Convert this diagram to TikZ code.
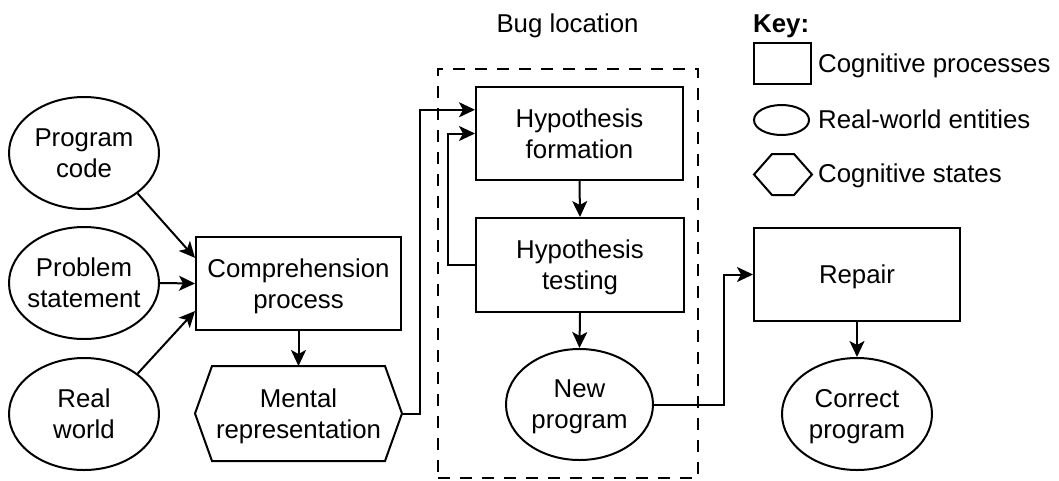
\documentclass[tikz,border=0pt]{standalone}
\usepackage{fontspec}
\setmainfont{Liberation Sans}
\usetikzlibrary{shapes.geometric,arrows.meta,calc}
\newcommand{\dfont}{\fontsize{25.8}{31}\selectfont}
\tikzset{
  lw/.style={line width=2pt},
  base/.style={lw, align=center, inner sep=0pt, font=\dfont, text depth=0pt},
  proc/.style={base, draw, rectangle},
  ent/.style={base, draw, ellipse, inner xsep=-6pt, minimum width=150, minimum height=112},
  statebox/.style={base, rectangle, minimum width=205, minimum height=93},
  arr/.style={lw, -{Stealth[length=16pt,width=15pt,inset=4pt]}},
  bugbox/.style={lw, draw, dash pattern=on 12pt off 10pt, rectangle, inner sep=0pt},
  keytext/.style={font=\dfont, inner sep=0pt, anchor=base west},
}
\begin{document}
\begin{tikzpicture}[x=1pt,y=-1pt]
\useasboundingbox (0,0) rectangle (1059,480);

% left column entities
\node[ent] (pc) at (84,153) {Program\\code};
\node[ent] (ps) at (84,283) {Problem\\statement};
\node[ent] (rw) at (84,414) {Real\\world};

% comprehension
\node[proc, minimum width=205, minimum height=93] (comp) at (298.5,283.5) {Comprehension\\process};
\node[statebox] (ment) at (298.5,413.5) {Mental\\representation};
\draw[lw] (ment.west) -- ([xshift=17pt]ment.north west) -- ([xshift=-17pt]ment.north east)
  -- (ment.east) -- ([xshift=-17pt]ment.south east) -- ([xshift=17pt]ment.south west) -- cycle;

% bug location
\node[bugbox, minimum width=260, minimum height=409] (bug) at (568,273.5) {};
\node[font=\dfont, inner sep=0pt, anchor=base] (buglbl) at (567.5,32) {Bug location};
\node[proc, minimum width=207, minimum height=93] (hf) at (579.5,133.5) {Hypothesis\\formation};
\node[proc, minimum width=208, minimum height=94] (ht) at (580,265) {Hypothesis\\testing};
\node[ent, minimum width=147, minimum height=111] (np) at (579.5,404.5) {New\\program};

% repair
\node[proc, minimum width=206, minimum height=93] (rep) at (857,274.5) {Repair};
\node[ent] (cp) at (857,414) {Correct\\program};

% key
\node[keytext, font=\dfont\bfseries] (keylbl) at (753,32) {Key:};
\node[lw, draw, rectangle, minimum width=57, minimum height=41, inner sep=0pt] (krect) at (782.5,63.5) {};
\node[keytext] (ktproc) at (818,72) {Cognitive processes};
\node[lw, draw, ellipse, minimum width=55, minimum height=30, inner sep=0pt] (kell) at (781.5,120) {};
\node[keytext] (ktent) at (818,128) {Real-world entities};
\draw[lw] (754,174.5) -- (772,154) -- (794,154) -- (812,174.5) -- (794,195) -- (772,195) -- cycle;
\node[keytext] (ktstate) at (818,182) {Cognitive states};

% connectors
\coordinate (cin1) at ($(comp.north west)!0.23!(comp.south west)$);
\coordinate (cin3) at ($(comp.north west)!0.79!(comp.south west)$);
\draw[arr] (pc.-37) -- (cin1);
\draw[arr] (ps.east) -- (comp.west);
\draw[arr] (rw.37) -- (cin3);
\draw[arr] (comp.south) -- (ment.north);

\coordinate (hfin1) at ($(hf.north west)!0.25!(hf.south west)$);
\draw[arr] (ment.east) -- ++(18,0) |- (hfin1);
\draw[arr] (hf.south) -- (ht.north);
\draw[arr] (ht.west) -- ++(-27,0) |- (hf.west);
\draw[arr] (ht.south) -- (np.north);
\draw[arr] (np.east) -- ++(70,0) |- (rep.west);
\draw[arr] (rep.south) -- (cp.north);
\end{tikzpicture}
\end{document}
